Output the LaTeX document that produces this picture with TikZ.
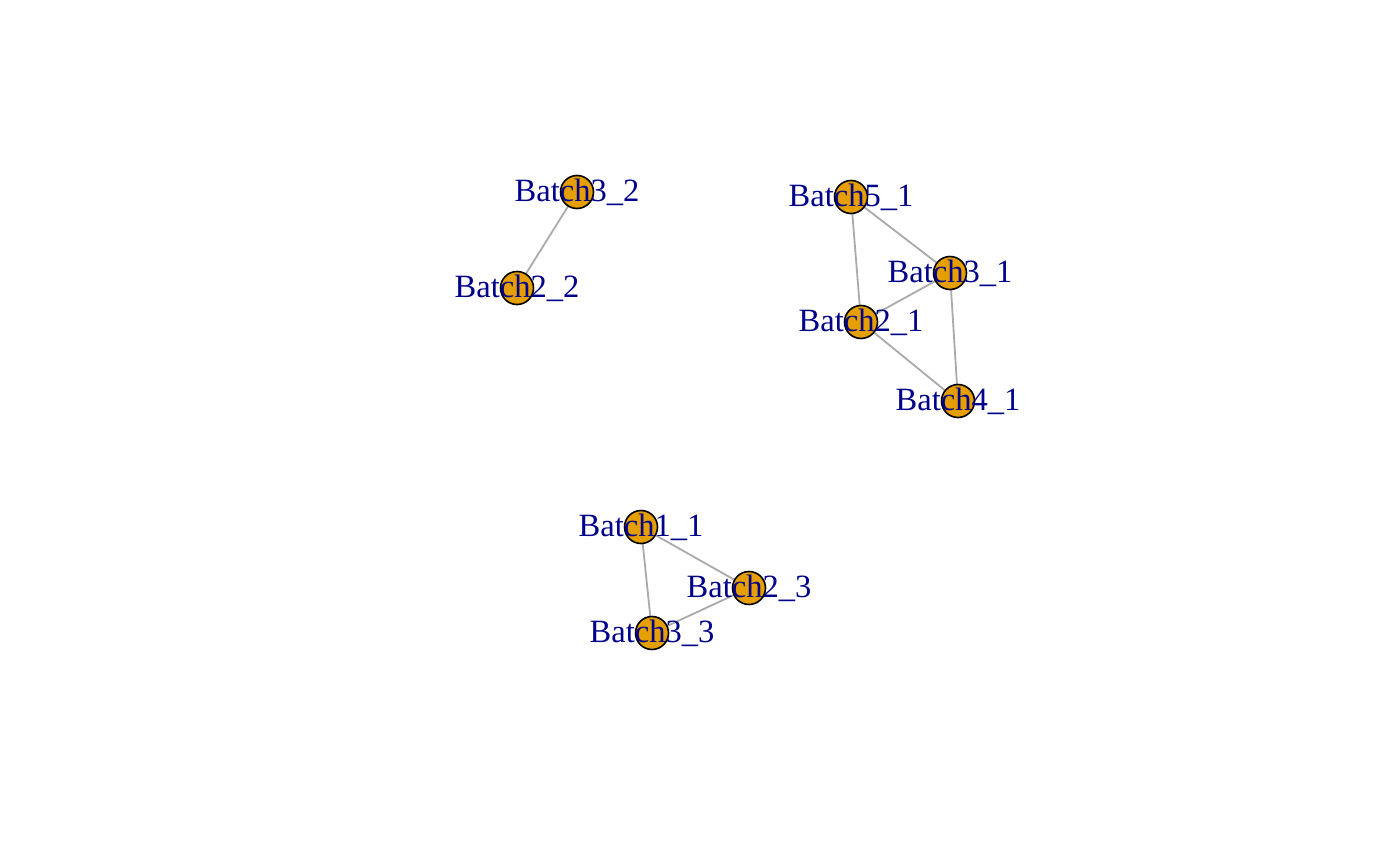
\documentclass[tikz,border=0pt]{standalone}
\usepackage{fontspec}
\setmainfont{Liberation Serif}
\definecolor{vfill}{HTML}{E69F00}
\definecolor{vlab}{HTML}{00008B}
\definecolor{edgec}{HTML}{AAAAAA}
\begin{document}
\begin{tikzpicture}[x=1bp,y=-1bp,
  vert/.style={circle,draw=black,line width=1.6bp,fill=vfill,minimum size=33bp,inner sep=0pt},
  vlabel/.style={text=vlab,font=\fontsize{32.5bp}{32.5bp}\selectfont,inner sep=0pt,anchor=center},
  edge/.style={draw=edgec,line width=1.8bp}]
\useasboundingbox (0,0) rectangle (1400,865);
\fill[white] (0,0) rectangle (1400,865);
\foreach \n/\x/\y in {b32/577/192, b22/517/288, b51/851/197, b31/950/273, b21/861/322, b41/958/401, b11/641/527, b23/749/588, b33/652/633}
  \coordinate (\n) at (\x,\y);
\draw[edge] (b32) -- (b22);
\draw[edge] (b51) -- (b31);
\draw[edge] (b51) -- (b21);
\draw[edge] (b31) -- (b21);
\draw[edge] (b31) -- (b41);
\draw[edge] (b21) -- (b41);
\draw[edge] (b11) -- (b23);
\draw[edge] (b11) -- (b33);
\draw[edge] (b23) -- (b33);
\foreach \n in {b32,b22,b51,b31,b21,b41,b11,b23,b33}
  \node[vert] (v\n) at (\n) {};
\node[vlabel] (l32) at (b32) {Batch3\_2};
\node[vlabel] (l22) at (b22) {Batch2\_2};
\node[vlabel] (l51) at (b51) {Batch5\_1};
\node[vlabel] (l31) at (b31) {Batch3\_1};
\node[vlabel] (l21) at (b21) {Batch2\_1};
\node[vlabel] (l41) at (b41) {Batch4\_1};
\node[vlabel] (l11) at (b11) {Batch1\_1};
\node[vlabel] (l23) at (b23) {Batch2\_3};
\node[vlabel] (l33) at (b33) {Batch3\_3};
\end{tikzpicture}
\end{document}
